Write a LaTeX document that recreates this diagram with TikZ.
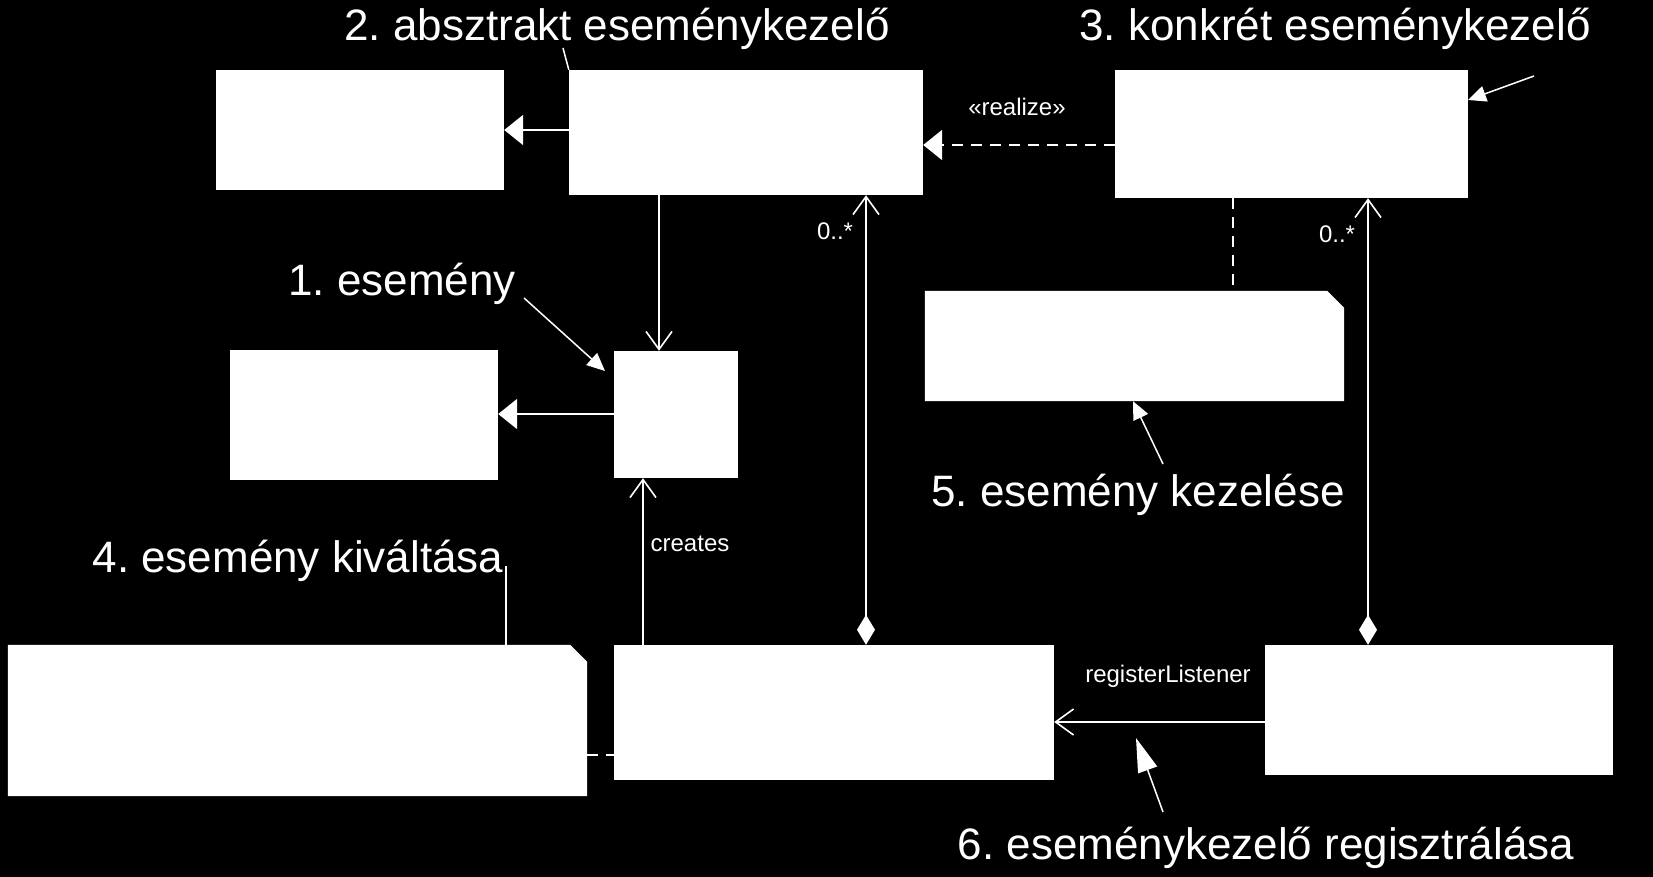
\documentclass[tikz,border=0pt]{standalone}
\usepackage{fontspec}
\setmainfont{Liberation Sans}
\usetikzlibrary{arrows.meta, calc}

\begin{document}
\frenchspacing
\begin{tikzpicture}[x=1pt, y=-1pt,
    every node/.style={text=white, inner sep=0pt},
    umlbox/.style={fill=white},
    notebox/.style={draw=none},
    bigtxt/.style={anchor=base, font=\fontsize{44}{50}\selectfont},
    smalltxt/.style={anchor=base, font=\fontsize{24}{28}\selectfont},
    conn/.style={draw=white, line width=2.2pt},
    general/.style={conn, -{Triangle[length=19pt, width=30pt, fill=white]}},
    assoc/.style={conn, -{Straight Barb[length=18pt, width=26pt, line width=1.6pt]}},
    compos/.style={conn, {Diamond[length=30pt, width=18pt, fill=white]}-{Straight Barb[length=18pt, width=26pt, line width=1.6pt]}},
    dependency/.style={conn, dash pattern=on 11pt off 8pt},
    leader/.style={draw=white, line width=1.5pt},
    callout/.style={leader, -{Triangle[length=18pt, width=16pt, fill=white]}}]
  \fill[black] (0,0) rectangle (1653,877);
  \useasboundingbox (0,0) rectangle (1653,877);

  % classes
  \node[umlbox, minimum width=288pt, minimum height=120pt] (listenerbase) at (360,130) {};
  \node[umlbox, minimum width=354pt, minimum height=125pt] (abshandler) at (746,132.5) {};
  \node[umlbox, minimum width=353pt, minimum height=128pt] (conhandler) at (1291.5,134) {};
  \node[umlbox, minimum width=268pt, minimum height=130pt] (eventbase) at (364,415) {};
  \node[umlbox, minimum width=124pt, minimum height=127pt] (event) at (676,414.5) {};
  \node[umlbox, minimum width=440pt, minimum height=135pt] (source) at (834,712.5) {};
  \node[umlbox, minimum width=348pt, minimum height=130pt] (client) at (1439,710) {};

  % notes, folded corner cut off
  \node[notebox, minimum width=579pt, minimum height=151pt] (firenote) at (297.5,720.5) {};
  \node[notebox, minimum width=419pt, minimum height=110pt] (handlenote) at (1134.5,346) {};
  \fill[white] (firenote.south west) |- ($(firenote.north east)+(-17pt,0pt)$)
    -- ($(firenote.north east)+(0pt,-17pt)$) -- (firenote.south east) -- cycle;
  \fill[white] (handlenote.south west) |- ($(handlenote.north east)+(-17pt,0pt)$)
    -- ($(handlenote.north east)+(0pt,-17pt)$) -- (handlenote.south east) -- cycle;

  % connector positions
  \coordinate (yab) at (0,130);
  \coordinate (yreal) at (0,145);
  \coordinate (xbe) at (659,0);
  \coordinate (yed) at (0,414);
  \coordinate (xfe) at (643,0);
  \coordinate (xfb) at (866,0);
  \coordinate (xgc) at (1368,0);
  \coordinate (ygf) at (0,722);
  \coordinate (ynote) at (0,755);
  \coordinate (xnote) at (1233,0);

  \draw[general] (abshandler.west |- yab) -- (listenerbase.east |- yab);
  \draw[general, dependency] (conhandler.west |- yreal) -- (abshandler.east |- yreal);
  \draw[assoc] (abshandler.south -| xbe) -- (event.north -| xbe);
  \draw[general] (event.west |- yed) -- (eventbase.east |- yed);
  \draw[assoc] (source.north -| xfe) -- (event.south -| xfe);
  \draw[compos] (source.north -| xfb) -- (abshandler.south -| xfb);
  \draw[compos] (client.north -| xgc) -- (conhandler.south -| xgc);
  \draw[assoc] (client.west |- ygf) -- (source.east |- ygf);
  \draw[dependency] (firenote.east |- ynote) -- (source.west |- ynote);
  \draw[dependency] (conhandler.south -| xnote) -- (handlenote.north -| xnote);

  % connector labels
  \node[smalltxt] (lblrealize) at (1017,116) {«realize»};
  \node[smalltxt] (lblcreates) at (690,551) {creates};
  \node[smalltxt] (lblmult1) at (835,240) {0..*};
  \node[smalltxt] (lblmult2) at (1337,243) {0..*};
  \node[smalltxt] (lblregister) at (1168,682) {registerListener};

  % annotations
  \node[bigtxt] (ann1) at (402,295) {1. esemény};
  \node[bigtxt] (ann2) at (617,41) {2. absztrakt eseménykezelő};
  \node[bigtxt] (ann3) at (1335,41) {3. konkrét eseménykezelő};
  \node[bigtxt] (ann4) at (298,572) {4. esemény kiváltása};
  \node[bigtxt] (ann5) at (1138,506) {5. esemény kezelése};
  \node[bigtxt] (ann6) at (1266,859) {6. eseménykezelő regisztrálása};

  \coordinate (from1) at (524,298);
  \coordinate (to1) at (605,371);
  \coordinate (from2) at (563,48);
  \coordinate (from3) at (1534,76);
  \coordinate (to3) at (1468,100);
  \coordinate (from4) at (506,566);
  \coordinate (from5) at (1163,464);
  \coordinate (to5) at (1133,0);
  \coordinate (from6) at (1163,812);
  \coordinate (to6) at (1136,738);

  \draw[callout] (from1) -- (to1);
  \draw[leader] (from2) -- (abshandler.north west);
  \draw[callout] (from3) -- (to3);
  \draw[leader] (from4) -- (firenote.north -| from4);
  \draw[callout] (from5) -- (handlenote.south -| to5);
  \draw[leader, -{Triangle[length=34pt, width=20pt, fill=white]}] (from6) -- (to6);
\end{tikzpicture}
\end{document}
